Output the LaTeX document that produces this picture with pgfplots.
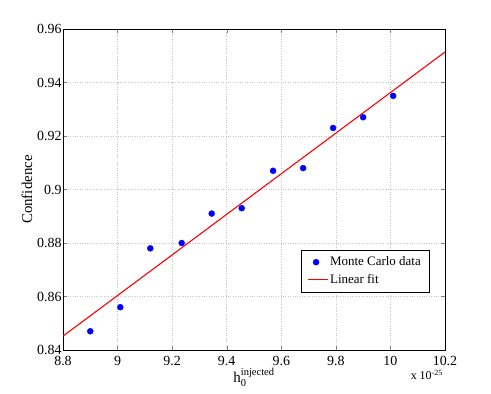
\documentclass[border=0pt]{standalone}
\usepackage{amsmath}
\usepackage{fontspec}
\setmainfont{Liberation Serif}
\usepackage{pgfplots}
\pgfplotsset{compat=1.18}

\begin{document}
\begin{tikzpicture}[x=1bp,y=1bp]
\begin{axis}[
  name=ax, at={(63bp,44bp)}, anchor=south west,
  scale only axis, width=382bp, height=321bp,
  xmin=8.8, xmax=10.2, ymin=0.84, ymax=0.96,
  xtick={8.8,9,...,10.2}, ytick={0.84,0.86,...,0.96},
  yticklabels={0.84,0.86,0.88,0.9,0.92,0.94,0.96},
  xticklabels={8.8,9,9.2,9.4,9.6,9.8,10,10.2},
  tick align=inside, major tick length=4bp,
  grid=major, major grid style={gray!45, dotted, line width=0.5pt},
  axis line style={line width=0.6pt},
  tick label style={font=\fontsize{14}{15}\selectfont, /pgf/number format/assume math mode=true},
  yticklabel style={xshift=2bp},
  xticklabel style={yshift=-3bp},
  ylabel={Confidence}, ylabel style={font=\fontsize{15}{16}\selectfont, yshift=-2bp},
  xlabel={$\text{h}_{\text{0}}^{\text{injected}}$}, xlabel style={font=\fontsize{15}{16}\selectfont, yshift=5bp},
  legend style={at={(0.958,0.18)}, anchor=south east, font=\fontsize{13}{14}\selectfont,
    draw=black, row sep=3bp, inner xsep=6bp, inner ysep=5bp},
  legend cell align=left,
  clip=true,
]
\addplot[only marks, mark=*, mark size=3bp, color=blue, mark options={fill=blue, draw=blue}]
  coordinates {(8.90,0.847) (9.01,0.856) (9.12,0.878) (9.235,0.880) (9.345,0.891)
    (9.455,0.893) (9.57,0.907) (9.68,0.908) (9.79,0.923) (9.90,0.927) (10.01,0.935)};
\addlegendentry{Monte Carlo data}
\addplot[red, line width=1.1pt, no marks,
  legend image code/.code={\draw[red, line width=1.1pt] (0bp,0bp) -- (20bp,0bp);}]
  coordinates {(8.8,0.8452) (10.2,0.9514)};
\addlegendentry{Linear fit}
\end{axis}
\node[anchor=north east, font=\fontsize{12}{13}\selectfont, inner sep=0pt] at (443bp,24bp) {x 10$^{\text{-25}}$};
\path[use as bounding box] (0,0) rectangle (491bp,394bp);
\end{tikzpicture}
\end{document}
